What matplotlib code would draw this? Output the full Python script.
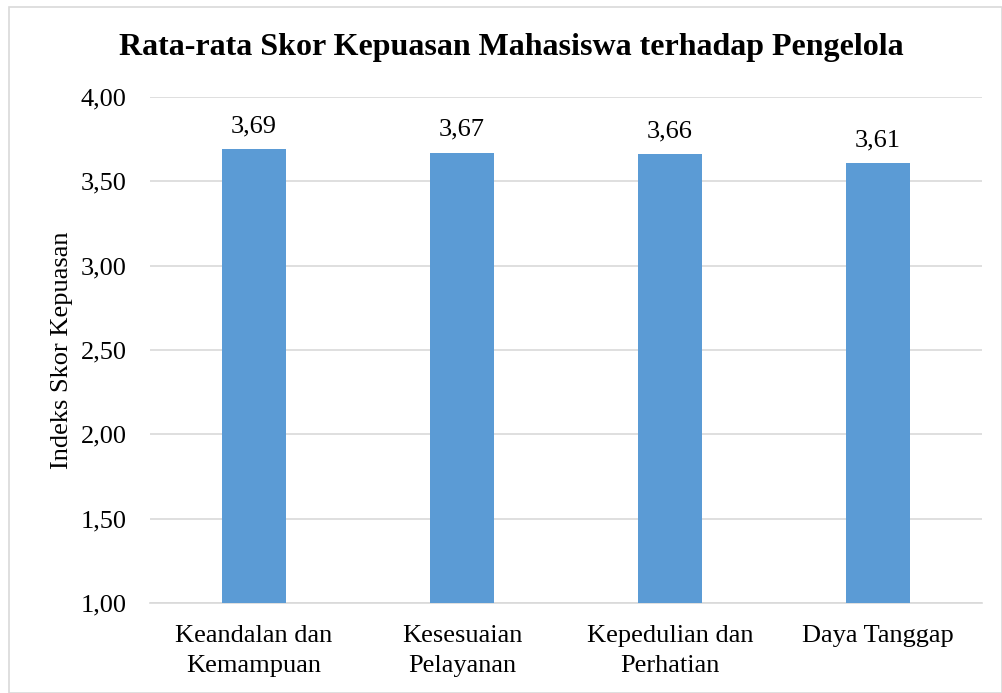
import matplotlib.pyplot as plt
from matplotlib.patches import Rectangle

categories = ['Keandalan dan\nKemampuan', 'Kesesuaian\nPelayanan',
              'Kepedulian dan\nPerhatian', 'Daya Tanggap']
scores = [3.69, 3.67, 3.66, 3.61]
yticks = [1.00, 1.50, 2.00, 2.50, 3.00, 3.50, 4.00]

plt.rcParams['font.family'] = ['Liberation Serif', 'DejaVu Serif']

fig = plt.figure(figsize=(10.03, 6.93), dpi=100)
ax = fig.add_axes([150 / 1003, 90 / 693, 832 / 1003, 506 / 693])

x = range(len(categories))
ax.bar(x, scores, width=0.31, color='#5B9BD5', zorder=3)
for xi, v in zip(x, scores):
    ax.text(xi, v + 0.07, f'{v:.2f}'.replace('.', ','), ha='center',
            va='bottom', fontsize=19, color='#000000')

ax.set_xlim(-0.5, len(categories) - 0.5)
ax.set_ylim(1.0, 4.0)
ax.set_yticks(yticks)
ax.set_yticklabels([f'{t:.2f}'.replace('.', ',') for t in yticks], fontsize=19)
ax.set_xticks(list(x))
ax.set_xticklabels(categories, fontsize=19, linespacing=1.45)
ax.tick_params(length=0)
ax.tick_params(axis='x', pad=16)
ax.tick_params(axis='y', pad=17)
ax.grid(axis='y', color='#D9D9D9', linewidth=1.2, zorder=0)
for s in ['top', 'right', 'left']:
    ax.spines[s].set_visible(False)
ax.spines['bottom'].set_color('#D9D9D9')
ax.spines['bottom'].set_linewidth(1.2)

ax.set_ylabel('Indeks Skor Kepuasan', fontsize=19, labelpad=5)
fig.text(0.510, 1 - 47 / 693, 'Rata-rata Skor Kepuasan Mahasiswa terhadap Pengelola',
         ha='center', va='center', fontsize=23, fontweight='bold')

fig.patches.append(Rectangle((9 / 1003, 0), 1 - 10 / 1003, 1 - 7 / 693,
                             transform=fig.transFigure, fill=False,
                             edgecolor='#D9D9D9', linewidth=1.2))

fig.savefig('out.png', dpi=100)
